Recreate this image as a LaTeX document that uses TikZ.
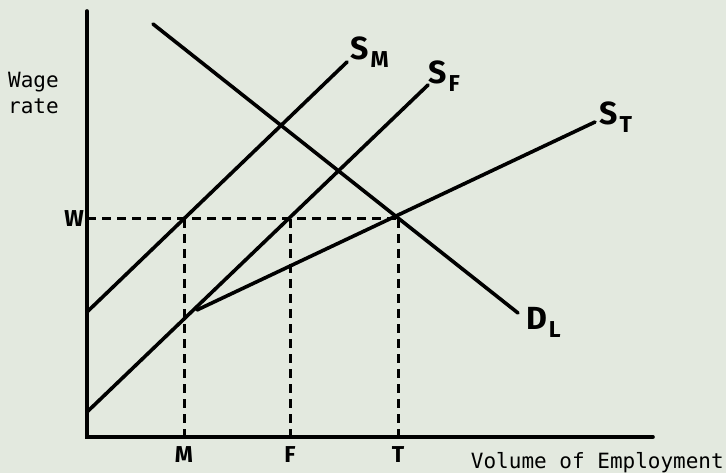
\documentclass[tikz,border=0pt]{standalone}
\usepackage{fontspec}
\setmonofont{DejaVu Sans Mono}
\setsansfont{Fira Sans}
\usepackage{xcolor}
\usepackage{tikz}
\usetikzlibrary{positioning, calc}
\definecolor{paper}{RGB}{227,233,223}

\begin{document}
\begin{tikzpicture}[x=1pt, y=-1pt,
			axis/.style={draw=black, line width=3.6pt, line cap=round},
			curve/.style={draw=black, line width=3.6pt, line cap=round},
			guide/.style={draw=black, line width=3pt, dash pattern=on 9pt off 6pt},
			hand/.style={font=\sffamily\bfseries\fontsize{32}{32}\selectfont, inner sep=0pt},
			small/.style={font=\sffamily\bfseries\fontsize{23}{23}\selectfont, inner sep=0pt},
			typed/.style={font=\ttfamily\fontsize{21}{26}\selectfont, inner sep=0pt}
			]
			\fill[paper] (0,0) rectangle (726,473);
			\useasboundingbox (0,0) rectangle (726,473);
			\def\wy{219}
			% axes
			\coordinate (O) at (87,437);
			\coordinate (ytop) at (87,11);
			\coordinate (xend) at (653,437);
			\draw[axis] (ytop) -- (O) -- (xend);
			% supply and demand
			\coordinate (sm0) at (87,312);  \coordinate (sm1) at (347,62);
			\coordinate (sf0) at (87,412);  \coordinate (sf1) at (428,85);
			\coordinate (st0) at (197,310); \coordinate (st1) at (595,122);
			\coordinate (dl0) at (153,24);  \coordinate (dl1) at (518,313);
			\draw[curve] (sm0) -- (sm1);
			\draw[curve] (sf0) -- (sf1);
			\draw[curve] (st0) -- (st1);
			\draw[curve] (dl0) -- (dl1);
			\node[hand] (lsm) at (360,48) {S};
			\node[small, right=1pt of lsm.south east, anchor=west] (lsmsub) {M};
			\node[hand] (lsf) at (438,72) {S};
			\node[small, right=1pt of lsf.south east, anchor=west] (lsfsub) {F};
			\node[hand] (lst) at (609,113) {S};
			\node[small, right=1pt of lst.south east, anchor=west] (lstsub) {T};
			\node[hand] (ldl) at (537,318) {D};
			\node[small, right=1pt of ldl.south east, anchor=west] (ldlsub) {L};
			% wage level and employment
			\coordinate (W) at (87,\wy);
			\node[small, left=3pt of W] (lw) {W};
			\draw[guide] (W) -- (398,\wy);
			\foreach \x/\lab in {184/M, 290/F, 398/T}{
				\draw[guide] (\x,\wy) -- (\x,437);
				\node[small] (l\lab) at (\x,455) {\lab};
			}
			\node[typed, align=left, anchor=west] (ylab) at (8,93) {Wage\\rate};
			\node[typed, anchor=east] (xlab) at (724,463) {Volume of Employment};
		\end{tikzpicture}
\end{document}
